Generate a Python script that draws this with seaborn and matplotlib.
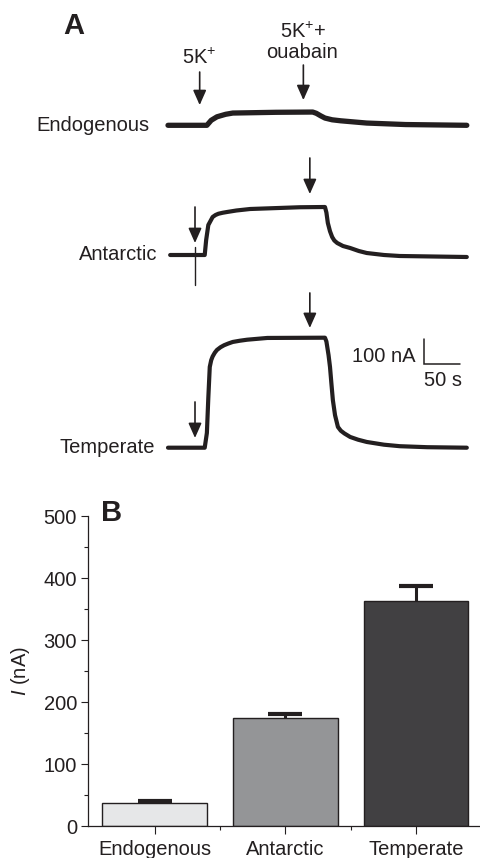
import matplotlib
matplotlib.use("Agg")
import matplotlib.pyplot as plt
import seaborn as sns
import pandas as pd

# ---------------- data ----------------
# Panel A: current traces (time in s, current in nA relative to baseline)
endo_t = [0, 54, 60, 68, 80, 90, 150, 201, 206, 212, 218, 228, 240, 276, 330, 415]
endo_i = [0, 0, 20, 34, 44, 49, 52, 53, 48, 38, 29, 22, 18, 9, 3, 0]

ant_t = [3, 51, 53, 56, 62, 66, 70, 76, 82, 95, 114, 183, 218, 220, 222, 225,
         228, 231, 235, 243, 253, 265, 276, 300, 322, 415]
ant_i = [0, 0, 60, 120, 152, 160, 165, 169, 172, 178, 184, 191, 192, 170, 128, 95,
         72, 58, 48, 36, 28, 16, 8, 0, -4, -8]

temp_t = [0, 51, 54, 56, 58, 60, 62, 65, 68, 73, 78, 84, 90, 100, 110, 138, 218,
          220, 223, 225, 227, 229, 232, 236, 240, 245, 253, 264, 276, 300, 322, 360, 415]
temp_i = [0, 0, 59, 200, 323, 350, 365, 380, 391, 402, 410, 417, 423, 428, 432, 439, 440,
          425, 370, 323, 255, 190, 130, 83, 68, 57, 43, 32, 23, 12, 6, 2, 0]

trace_names = ["Endogenous", "Antarctic", "Temperate"]
k_times = [44, 37.5, 37.5]          # 5K+ application (s)
ouabain_times = [188, 197, 197]     # 5K+ + ouabain application (s)

# Panel B: bar chart
categories = ["Endogenous", "Antarctic", "Temperate"]
current_mean = [37, 174, 363]
current_sem = [3, 6, 24]

# ---------------- style ----------------
sns.set_theme(style="ticks")
plt.rcParams["font.family"] = ["Liberation Sans", "DejaVu Sans"]
plt.rcParams["mathtext.fontset"] = "custom"
plt.rcParams["mathtext.rm"] = "Liberation Sans"
plt.rcParams["mathtext.it"] = "Liberation Sans:italic"
plt.rcParams["mathtext.bf"] = "Liberation Sans:bold"
ink = "#231f20"
fs = 14.5

W, H = 481, 858
fig = plt.figure(figsize=(W / 100, H / 100), dpi=100)

# ---------------- Panel A ----------------
axA = fig.add_axes([0, 1 - 500 / H, 1, 500 / H])
px_per_s = 0.72
nA_per_px = 4.0
axA.set_xlim(-168 / px_per_s, (W - 168) / px_per_s)
axA.set_ylim(-(500 - 447.7) * nA_per_px, 447.7 * nA_per_px)
axA.axis("off")

offsets = [(447.7 - 125.3) * nA_per_px, (447.7 - 255) * nA_per_px, 0.0]
traces = [(endo_t, endo_i), (ant_t, ant_i), (temp_t, temp_i)]
lws = [3.8, 3.0, 3.0]
for (t, i), off, lw in zip(traces, offsets, lws):
    df = pd.DataFrame({"t": t, "i": [v + off for v in i]})
    sns.lineplot(data=df, x="t", y="i", sort=False, estimator=None,
                 color=ink, lw=lw, ax=axA)

# labels of traces
label_x = [-25, -15, -18]
for name, off, lx in zip(trace_names, offsets, label_x):
    axA.text(lx, off, name, ha="right", va="center", fontsize=fs, color=ink)

def arrow(x, y_tip, y_tail):
    axA.annotate("", xy=(x, y_tip), xytext=(x, y_tail),
                 arrowprops=dict(arrowstyle="-|>,head_length=0.45,head_width=0.2",
                                 lw=1.2, color=ink, mutation_scale=20,
                                 shrinkA=0, shrinkB=0))

# arrow tip/tail offsets (nA above baseline)
k_arrows = [(81, 213), (48, 192), (39, 183)]
o_arrows = [(101, 241), (244, 388), (479, 619)]
for kt, ot, off, ka, oa in zip(k_times, ouabain_times, offsets, k_arrows, o_arrows):
    arrow(kt, off + ka[0], off + ka[1])
    arrow(ot, off + oa[0], off + oa[1])

# stimulus artefact on Antarctic trace
axA.plot([k_times[1], k_times[1]], [offsets[1] + 32, offsets[1] - 120],
         color=ink, lw=1.0)

# annotations
axA.text(44, (447.7 - 58) * nA_per_px, "5K$^{+}$", ha="center", va="center",
         fontsize=fs, color=ink)
axA.text(188, (447.7 - 32) * nA_per_px, "5K$^{+}$+", ha="center", va="center",
         fontsize=fs, color=ink)
axA.text(186, (447.7 - 52) * nA_per_px, "ouabain", ha="center", va="center",
         fontsize=fs, color=ink)

# scale bar: 100 nA, 50 s
sb_t = (424 - 168) / px_per_s
sb_y = (447.7 - 364) * nA_per_px
axA.plot([sb_t, sb_t, sb_t + 50], [sb_y + 100, sb_y, sb_y], color=ink, lw=1.1,
         solid_joinstyle="miter")
axA.text(sb_t - 12, sb_y + 28, "100 nA", ha="right", va="center", fontsize=fs,
         color=ink)
axA.text(sb_t + 26, sb_y - 64, "50 s", ha="center", va="center", fontsize=fs,
         color=ink)

fig.text(63 / W, 1 - 26 / H, "A", ha="left", va="center", fontsize=21,
         fontweight="bold", color=ink)

# ---------------- Panel B ----------------
axB = fig.add_axes([88 / W, (H - 826) / H, (480 - 88) / W, (826 - 516) / H])
dfb = pd.DataFrame({"cat": categories, "val": current_mean})
sns.barplot(data=dfb, x="cat", y="val", hue="cat",
            palette=["#e6e7e8", "#939598", "#414042"],
            edgecolor=ink, linewidth=1.0, width=0.8, errorbar=None,
            legend=False, ax=axB)
eb = axB.errorbar(range(len(categories)), current_mean,
                  yerr=[[0] * len(categories), current_sem], fmt="none",
                  ecolor=ink, elinewidth=2.2, capsize=12, capthick=3, zorder=5)
# keep only the upper caps
caps = eb[1]
if len(caps) >= 2:
    caps[0].set_visible(False)
axB.set_xlim(-0.51, 2.49)
axB.set_ylim(0, 500)
axB.set_yticks([0, 100, 200, 300, 400, 500])
axB.set_yticks([50, 150, 250, 350, 450], minor=True)
axB.set_xticks([0, 1, 2])
axB.set_xticks([0.5, 1.5], minor=True)
axB.set_xticklabels(categories)
axB.set_xlabel("")
axB.set_ylabel(r"$\mathit{I}$ (nA)", fontsize=fs, color=ink)
axB.yaxis.set_label_coords(-0.143, 0.5)
sns.despine(ax=axB)
for sp in ["left", "bottom"]:
    axB.spines[sp].set_linewidth(0.9)
    axB.spines[sp].set_color(ink)
axB.tick_params(which="major", length=5, width=0.8, labelsize=fs, colors=ink,
                pad=3)
axB.tick_params(axis="x", which="major", length=6, pad=4)
axB.tick_params(which="minor", length=3, width=0.8, color=ink)

fig.text(101 / W, 1 - 513 / H, "B", ha="left", va="center", fontsize=21,
         fontweight="bold", color=ink)

fig.savefig("out.png", dpi=100)
